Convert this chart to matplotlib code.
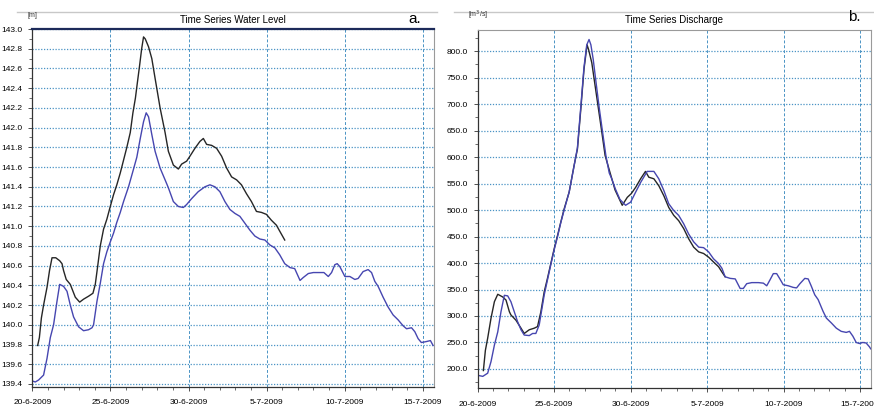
import numpy as np
import matplotlib
matplotlib.use("Agg")
import matplotlib.pyplot as plt
from matplotlib.lines import Line2D
from matplotlib.ticker import FixedLocator, MultipleLocator

plt.rcParams['font.family'] = ['Liberation Sans Narrow', 'Liberation Sans', 'DejaVu Sans']

# days are counted as "day of June 2009" (35 = 5-7-2009)
date_ticks = [20, 25, 30, 35, 40, 45]
date_labels = ['20-6-2009', '25-6-2009', '30-6-2009', '5-7-2009', '10-7-2009', '15-7-2009']

# a. water level [m]
wl_black_day = [20.34, 20.45, 20.58, 20.72, 20.94, 21.10, 21.26, 21.50, 21.75, 21.90,
                22.00, 22.17, 22.43, 22.75, 23.03, 23.28, 23.60, 23.88, 24.03, 24.18,
                24.35, 24.56, 24.77, 24.99, 25.20, 25.41, 25.63, 25.84, 26.05, 26.27,
                26.44, 26.60, 26.72, 26.86, 27.00, 27.12, 27.23, 27.44, 27.65, 27.86,
                28.18, 28.50, 28.71, 29.03, 29.35, 29.56, 29.88, 30.09, 30.41, 30.73,
                30.95, 31.16, 31.48, 31.80, 32.12, 32.44, 32.76, 33.08, 33.39, 33.71,
                34.03, 34.35, 34.67, 34.99, 35.31, 35.63, 35.84, 36.16]
wl_black = [139.79, 139.87, 140.07, 140.20, 140.38, 140.55, 140.68, 140.68, 140.65, 140.62,
            140.55, 140.46, 140.41, 140.28, 140.23, 140.26, 140.29, 140.32, 140.41, 140.59,
            140.80, 140.97, 141.07, 141.20, 141.32, 141.42, 141.54, 141.67, 141.80, 141.95,
            142.15, 142.30, 142.45, 142.62, 142.80, 142.92, 142.90, 142.82, 142.70, 142.50,
            142.20, 141.95, 141.76, 141.62, 141.58, 141.63, 141.66, 141.71, 141.79, 141.86,
            141.89, 141.83, 141.82, 141.79, 141.71, 141.59, 141.50, 141.47, 141.42, 141.33,
            141.25, 141.15, 141.14, 141.12, 141.06, 141.01, 140.95, 140.86]

wl_blue_day = [20.00, 20.19, 20.40, 20.72, 20.94, 21.15, 21.36, 21.58, 21.75, 22.00,
               22.22, 22.43, 22.64, 22.96, 23.28, 23.60, 23.82, 23.92, 24.14, 24.35,
               24.56, 24.77, 24.99, 25.20, 25.41, 25.63, 25.84, 26.16, 26.48, 26.69,
               26.91, 27.12, 27.29, 27.44, 27.65, 27.86, 28.18, 28.50, 28.71, 29.03,
               29.35, 29.67, 29.88, 30.20, 30.62, 31.05, 31.37, 31.69, 32.01, 32.33,
               32.65, 32.97, 33.29, 33.61, 33.93, 34.25, 34.57, 34.89, 35.21, 35.53,
               35.84, 36.16, 36.50, 36.80, 37.14, 37.35, 37.67, 37.99, 38.41, 38.67,
               38.95, 39.16, 39.37, 39.52, 39.69, 40.01, 40.33, 40.65, 40.86, 41.18,
               41.50, 41.72, 41.93, 42.14, 42.46, 42.78, 43.10, 43.42, 43.74, 43.96,
               44.28, 44.49, 44.70, 44.91, 45.23, 45.49, 45.66]
wl_blue = [139.43, 139.42, 139.44, 139.49, 139.66, 139.87, 140.00, 140.24, 140.41, 140.39,
           140.34, 140.20, 140.08, 139.98, 139.94, 139.95, 139.97, 140.00, 140.24, 140.42,
           140.62, 140.74, 140.84, 140.93, 141.04, 141.14, 141.25, 141.40, 141.58, 141.70,
           141.89, 142.06, 142.15, 142.11, 141.93, 141.76, 141.59, 141.47, 141.39, 141.25,
           141.20, 141.19, 141.22, 141.28, 141.35, 141.40, 141.42, 141.40, 141.35, 141.25,
           141.17, 141.13, 141.10, 141.03, 140.96, 140.90, 140.87, 140.86, 140.81, 140.78,
           140.71, 140.62, 140.58, 140.57, 140.45, 140.48, 140.52, 140.53, 140.53, 140.53,
           140.49, 140.53, 140.61, 140.62, 140.59, 140.49, 140.49, 140.46, 140.47, 140.54,
           140.56, 140.53, 140.44, 140.39, 140.28, 140.18, 140.10, 140.05, 139.99, 139.96,
           139.97, 139.93, 139.86, 139.82, 139.83, 139.84, 139.79]

# b. discharge [m3/s]
q_black_day = [20.37, 20.50, 20.65, 20.87, 21.09, 21.31, 21.63, 21.85, 22.07, 22.17,
               22.50, 22.83, 23.04, 23.37, 23.70, 23.91, 24.13, 24.35, 24.56, 24.78,
               25.00, 25.22, 25.43, 25.65, 25.98, 26.30, 26.52, 26.74, 26.95, 27.15,
               27.25, 27.46, 27.68, 27.90, 28.12, 28.33, 28.69, 28.98, 29.45, 29.78,
               30.04, 30.33, 30.65, 30.97, 31.19, 31.52, 31.84, 32.17, 32.49, 32.82,
               33.14, 33.47, 33.79, 34.12, 34.45, 34.77, 35.10, 35.42, 35.75, 35.97,
               36.18]
q_black = [197, 235, 258, 296, 327, 341, 336, 330, 308, 302,
           292, 277, 267, 274, 277, 280, 308, 346, 371, 399,
           427, 452, 477, 502, 534, 584, 615, 690, 766, 812,
           803, 778, 734, 690, 646, 603, 567, 538, 509, 524,
           531, 543, 559, 573, 562, 559, 546, 527, 505, 490,
           480, 465, 446, 430, 421, 418, 411, 402, 393, 383,
           374]

q_blue_day = [20.00, 20.33, 20.65, 20.87, 21.09, 21.31, 21.52, 21.74, 21.96, 22.17,
              22.39, 22.61, 22.83, 23.04, 23.37, 23.59, 23.80, 24.02, 24.24, 24.35,
              24.56, 24.78, 25.00, 25.22, 25.43, 25.65, 25.98, 26.30, 26.52, 26.74,
              26.95, 27.13, 27.28, 27.40, 27.55, 27.75, 27.95, 28.17, 28.38, 28.60,
              28.75, 29.00, 29.30, 29.67, 30.00, 30.33, 30.65, 31.08, 31.52, 31.84,
              32.17, 32.49, 32.82, 33.14, 33.47, 33.79, 34.12, 34.45, 34.77, 35.10,
              35.42, 35.75, 35.97, 36.18, 36.51, 36.84, 37.16, 37.37, 37.59, 37.92,
              38.36, 38.68, 38.90, 39.11, 39.33, 39.55, 39.76, 39.98, 40.31, 40.63,
              40.85, 41.07, 41.39, 41.61, 41.82, 42.04, 42.26, 42.58, 42.80, 43.12,
              43.45, 43.77, 44.10, 44.31, 44.53, 44.75, 44.96, 45.18, 45.40, 45.61,
              45.70]
q_blue = [188, 186, 192, 214, 245, 270, 308, 339, 338, 327,
          308, 289, 274, 264, 263, 267, 267, 283, 321, 340,
          368, 397, 425, 450, 476, 500, 534, 583, 618, 695,
          770, 812, 822, 812, 785, 738, 692, 646, 603, 570,
          560, 540, 520, 509, 515, 534, 552, 573, 573, 559,
          537, 512, 499, 490, 474, 455, 440, 430, 429, 421,
          408, 399, 390, 374, 371, 370, 352, 352, 361, 363,
          363, 362, 357, 368, 380, 380, 370, 359, 357, 354,
          353, 361, 371, 370, 356, 340, 331, 309, 296, 287,
          277, 271, 269, 271, 262, 250, 248, 250, 249, 242,
          238]

grid_col = '#4a93c4'
black_col = '#262626'
blue_col = '#4646b0'

fig = plt.figure(figsize=(8.74, 4.09), dpi=100)
fig.patch.set_facecolor('white')

ax1 = fig.add_axes([0.037, 0.054, 0.4596, 0.875])
ax2 = fig.add_axes([0.5466, 0.0513, 0.45, 0.8754])


def style(ax, ylim, ymajor, yminor, fmt):
    ax.set_xlim(20, 45.72)
    ax.set_ylim(*ylim)
    ax.xaxis.set_major_locator(FixedLocator(date_ticks))
    ax.set_xticklabels(date_labels)
    ax.xaxis.set_minor_locator(MultipleLocator(1))
    ax.yaxis.set_major_locator(MultipleLocator(ymajor))
    ax.yaxis.set_minor_locator(MultipleLocator(yminor))
    ax.yaxis.set_major_formatter(plt.FuncFormatter(lambda v, p: fmt % v))
    ax.tick_params(axis='both', which='major', labelsize=6, length=3, width=0.6,
                   color='#333333', pad=4)
    ax.tick_params(axis='x', which='major', pad=6)
    ax.tick_params(axis='both', which='minor', length=2, width=0.5, color='#333333')
    ax.yaxis.grid(True, which='major', color=grid_col, linestyle=(0, (1, 1.3)), lw=0.9)
    ax.xaxis.grid(True, which='major', color=grid_col, linestyle=(0, (3, 2)), lw=0.7)
    for s in ['left', 'bottom']:
        ax.spines[s].set_color('#333333')
        ax.spines[s].set_linewidth(0.9)
    ax.spines['right'].set_color('#9a9a9a')
    ax.spines['right'].set_linewidth(0.8)
    ax.set_axisbelow(True)


style(ax1, (139.37, 143.0), 0.2, 0.1, '%.1f')
ax1.spines['top'].set_color('#1c2a5a')
ax1.spines['top'].set_linewidth(1.6)
ax1.plot(wl_blue_day, wl_blue, color=blue_col, lw=1.0)
ax1.plot(wl_black_day, wl_black, color=black_col, lw=1.0)

style(ax2, (164, 840), 50, 25, '%.1f')
ax2.spines['top'].set_color('#9a9a9a')
ax2.spines['top'].set_linewidth(0.8)
ax2.plot(q_black_day, q_black, color=black_col, lw=1.0)
ax2.plot(q_blue_day, q_blue, color=blue_col, lw=1.0)

# panel headers
fig.add_artist(Line2D([0.02, 0.5], [0.971, 0.971], color='#c8c8c8', lw=1.0))
fig.add_artist(Line2D([0.52, 1.0], [0.971, 0.971], color='#c8c8c8', lw=1.0))
fig.text(0.032, 0.962, '[m]', fontsize=5, va='center', ha='left', color='#333333')
fig.text(0.267, 0.951, 'Time Series Water Level', fontsize=7, ha='center', va='center')
fig.text(0.475, 0.953, 'a.', fontsize=11, ha='center', va='center')
fig.text(0.535, 0.962, '[m$^3$/s]', fontsize=5, va='center', ha='left', color='#333333')
fig.text(0.771, 0.951, 'Time Series Discharge', fontsize=7, ha='center', va='center')
fig.text(0.977, 0.958, 'b.', fontsize=11, ha='center', va='center')

fig.savefig('out.png', dpi=100, facecolor='white')
